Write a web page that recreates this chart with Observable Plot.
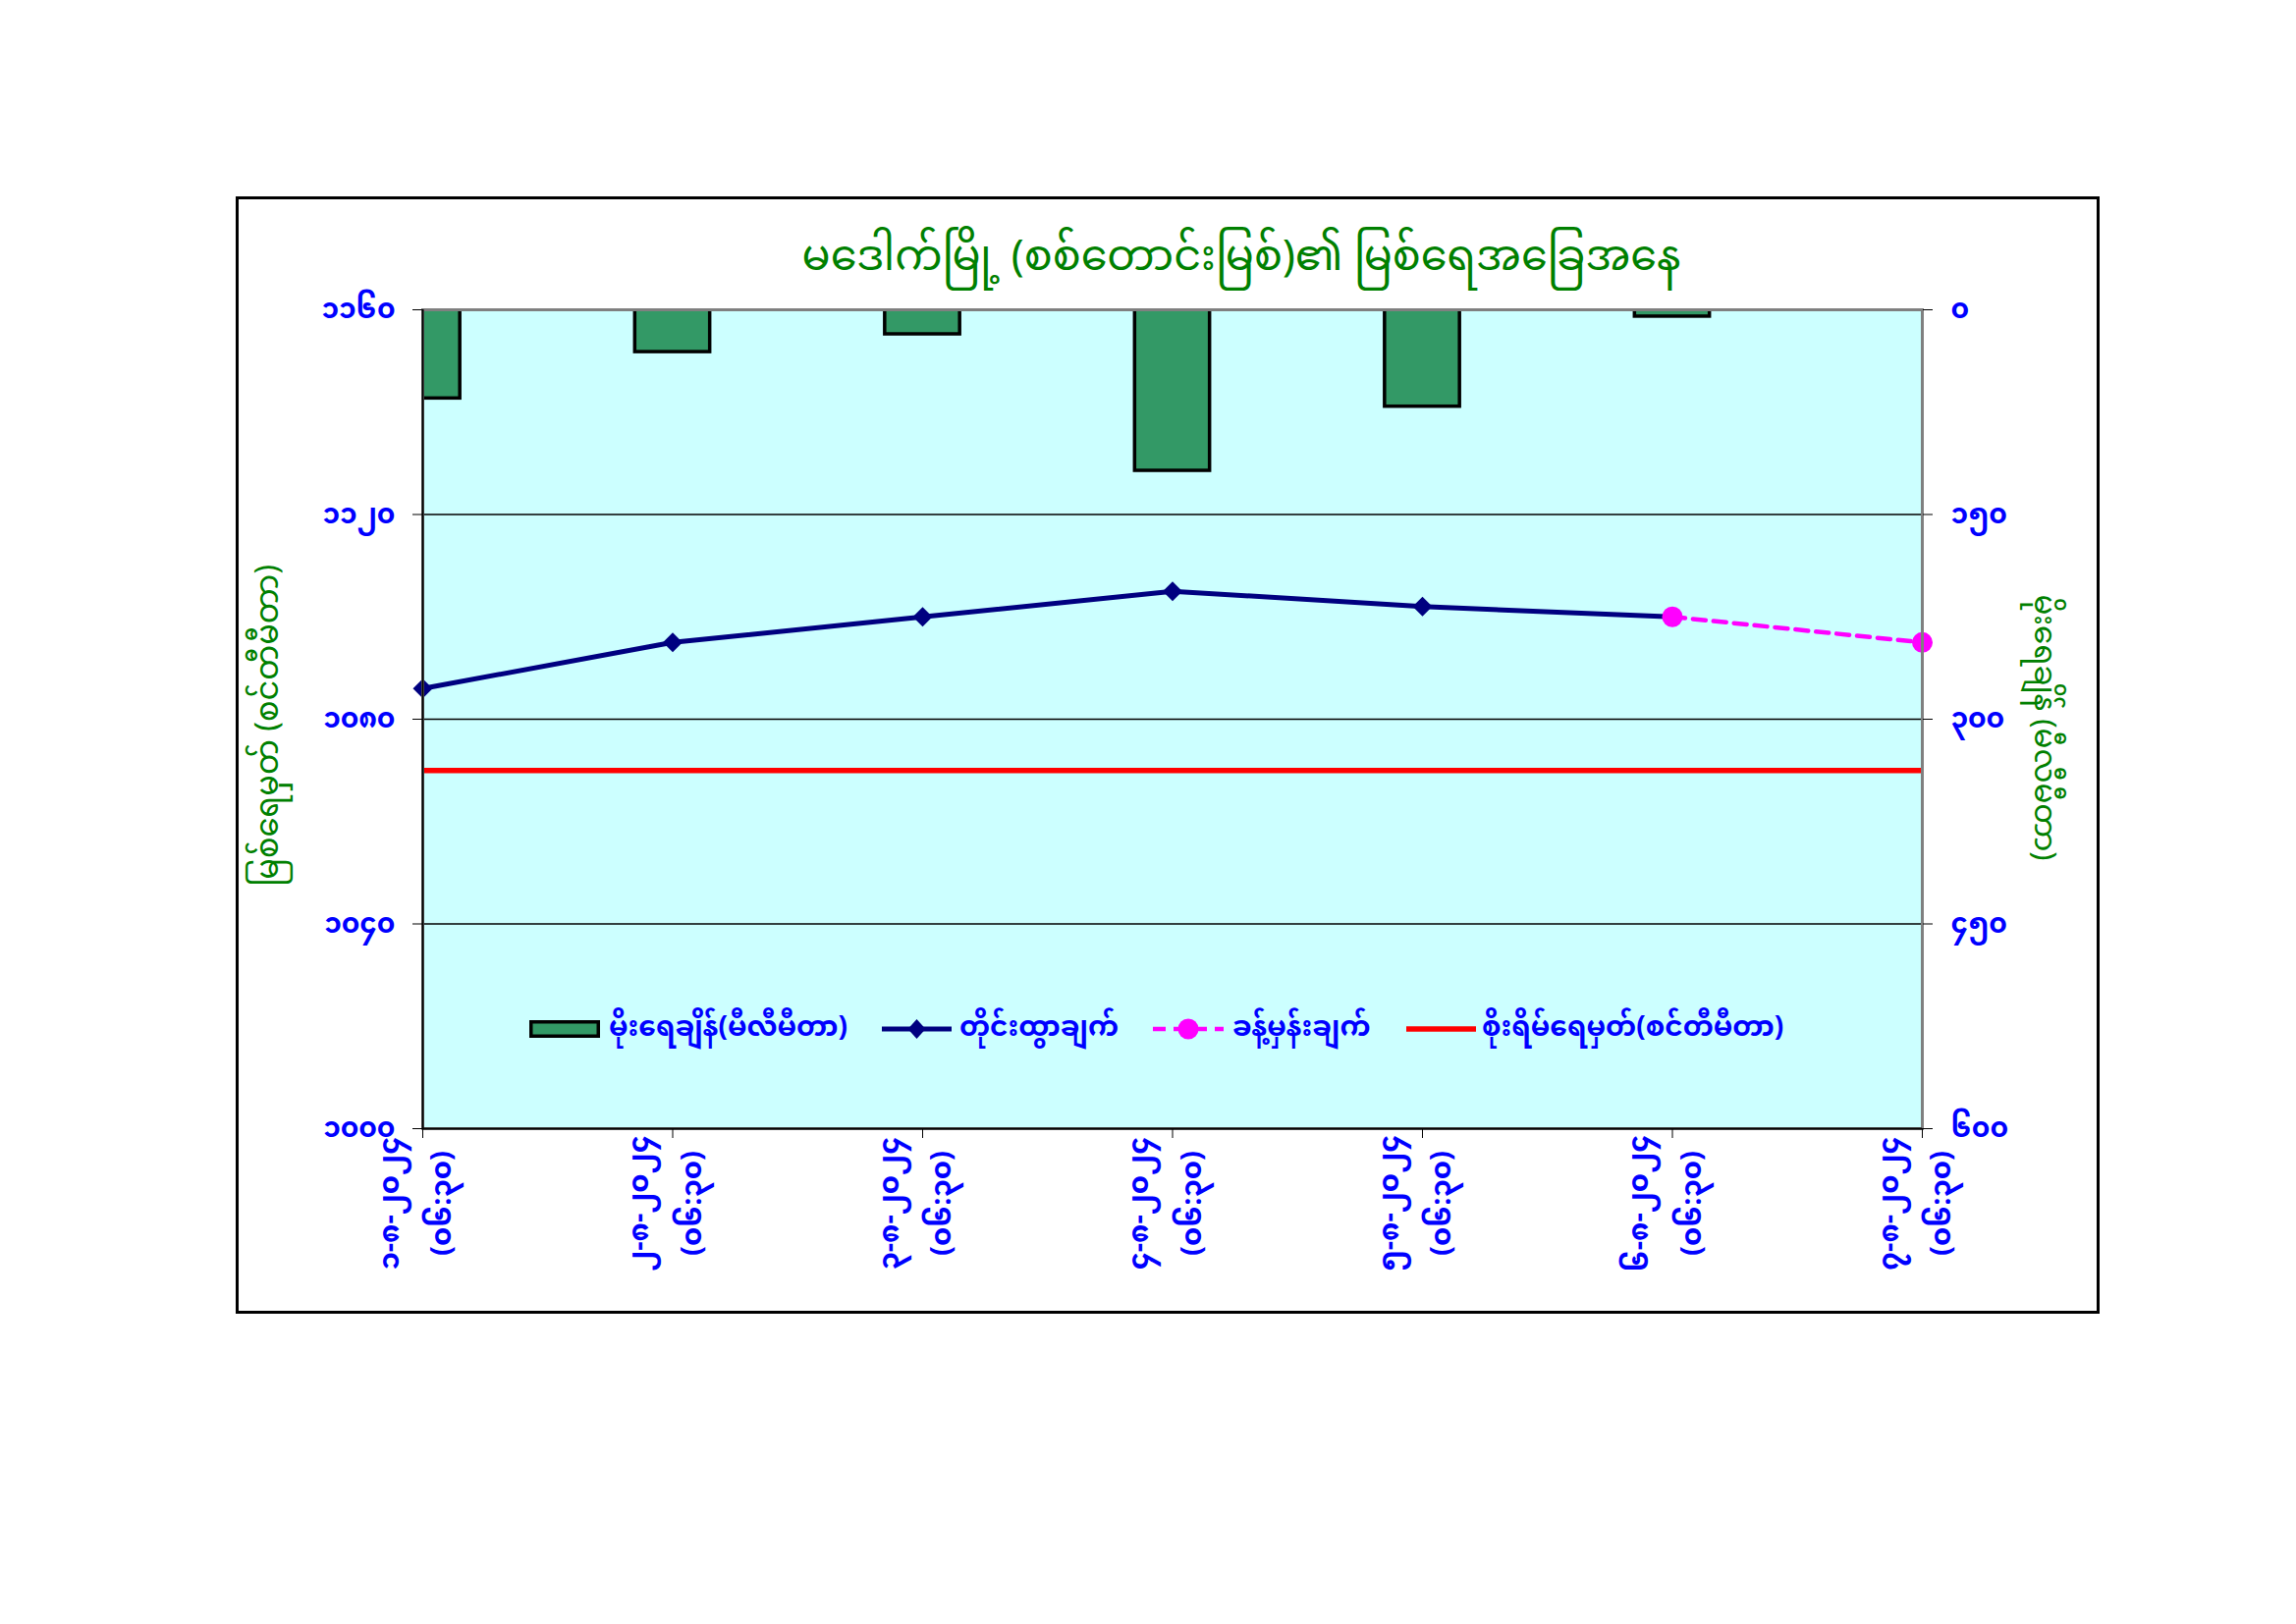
<!DOCTYPE html>
<html>
<head>
<meta charset="utf-8">
<script src="https://cdn.jsdelivr.net/npm/d3@7"></script>
<script src="https://cdn.jsdelivr.net/npm/@observablehq/plot@0.6"></script>
<style>
html,body{margin:0;padding:0;background:#fff;}
#wrap{position:relative;width:2338px;height:1654px;overflow:hidden;
  font-family:"Noto Sans Myanmar","Padauk","Myanmar Text","Noto Sans","DejaVu Sans",sans-serif;}
#chart{position:absolute;left:0;top:0;}
#border{position:absolute;left:240px;top:200px;width:1898px;height:1138px;border:3px solid #000;box-sizing:border-box;}
.ttl{position:absolute;color:#008000;white-space:nowrap;}
#title{left:1264px;top:265px;transform:translate(-50%,-50%);font-size:43px;}
#ylab{left:276px;top:739px;transform:translate(-50%,-50%) rotate(-90deg);font-size:32px;}
#ylab2{left:2079px;top:741px;transform:translate(-50%,-50%) rotate(90deg);font-size:31px;}
.leg{position:absolute;top:1048px;transform:translateY(-50%);color:#0000FF;font-weight:bold;font-size:28px;white-space:nowrap;}
.sw{position:absolute;top:1048px;transform:translateY(-50%);line-height:0;}
</style>
</head>
<body>
<div id="wrap">
  <div id="border"></div>
  <div id="chart"></div>
  <div id="title" class="ttl"></div>
  <div id="ylab" class="ttl"></div>
  <div id="ylab2" class="ttl"></div>
  <div id="legend"></div>
</div>
<script>
// ---- data ----
const titleText = "မဒေါက်မြို့ (စစ်တောင်းမြစ်)၏ မြစ်ရေအခြေအနေ";
const leftTitle = "မြစ်ရေမှတ် (စင်တီမီတာ)";
const rightTitle = "မိုးရေချိန် (မီလီမီတာ)";
const dates = ["၁-၈-၂၀၂၄", "၂-၈-၂၀၂၄", "၃-၈-၂၀၂၄", "၄-၈-၂၀၂၄", "၅-၈-၂၀၂၄", "၆-၈-၂၀၂၄", "၇-၈-၂၀၂၄"];
const obsTime = "(၀၆:၃၀)";
const observedDays = [0, 1, 2, 3, 4, 5];
const waterLevel = [1086, 1095, 1100, 1105, 1102, 1100];      // cm
const forecastDays = [5, 6];
const forecastLevel = [1100, 1095];                            // cm
const rainfall = [65, 31, 18, 118, 71, 5];                     // mm
const dangerLevel = [1070];                                    // cm
const levelTicks = [1000, 1040, 1080, 1120, 1160];
const rainTicks = [0, 150, 300, 450, 600];
const legendLabels = ["မိုးရေချိန်(မီလီမီတာ)", "တိုင်းထွာချက်", "ခန့်မှန်းချက်", "စိုးရိမ်ရေမှတ်(စင်တီမီတာ)"];

// ---- helpers ----
const mmDigits = "၀၁၂၃၄၅၆၇၈၉";
const toMM = v => String(v).replace(/[0-9]/g, c => mmDigits[+c]);
const levelMin = levelTicks[0], levelMax = levelTicks[levelTicks.length - 1];
const rainMax = rainTicks[rainTicks.length - 1];
const rainToY = r => levelMax - r * (levelMax - levelMin) / rainMax;
const yToRain = y => Math.round((levelMax - y) * rainMax / (levelMax - levelMin));

const levelRows = observedDays.map((d, k) => ({i: d, v: waterLevel[k]}));
const forecastRows = forecastDays.map((d, k) => ({i: d, v: forecastLevel[k]}));
const rainRows = rainfall.map((r, k) => ({i: k, rain: r}));
const dayIndex = dates.map((d, k) => k);

const blue = "#0000FF";
const fontFam = "'Noto Sans Myanmar','Padauk','Myanmar Text','Noto Sans','DejaVu Sans',sans-serif";

const chart = Plot.plot({
  width: 2338, height: 1654,
  marginLeft: 430, marginRight: 381, marginTop: 315, marginBottom: 505,
  x: {type: "linear", domain: [0, dates.length - 1]},
  y: {domain: [levelMin, levelMax]},
  style: {background: "transparent", fontFamily: fontFam, overflow: "visible"},
  marks: [
    Plot.frame({fill: "#CCFFFF", stroke: null}),
    Plot.ruleY(levelTicks.slice(1, -1), {stroke: "black", strokeWidth: 1.3}),
    Plot.rect(rainRows, {x1: d => d.i - 0.15, x2: d => d.i + 0.15, y1: levelMax, y2: d => rainToY(d.rain),
      fill: "#339966", stroke: "black", strokeWidth: 3.5, clip: true}),
    Plot.ruleY(dangerLevel, {stroke: "#FF0000", strokeWidth: 5.5}),
    Plot.line(levelRows, {x: "i", y: "v", stroke: "#000080", strokeWidth: 5}),
    Plot.dot(levelRows, {x: "i", y: "v", symbol: "diamond2", r: 9, fill: "#000080", stroke: null}),
    Plot.line(forecastRows, {x: "i", y: "v", stroke: "#FF00FF", strokeWidth: 4.5, strokeDasharray: "13,8"}),
    Plot.dot(forecastRows, {x: "i", y: "v", r: 10.5, fill: "#FF00FF", stroke: null}),
    Plot.frame({stroke: "#808080", strokeWidth: 3}),
    Plot.ruleX([0], {stroke: "black", strokeWidth: 2}),
    Plot.ruleY([levelMin], {stroke: "black", strokeWidth: 2}),
    Plot.axisY({ticks: levelTicks, tickSize: 10, tickPadding: 18, tickFormat: toMM, label: null,
      fontSize: 28, fontWeight: "bold", fill: blue, stroke: "black"}),
    Plot.axisY({anchor: "right", ticks: rainTicks.map(rainToY), tickFormat: y => toMM(yToRain(y)), label: null,
      tickSize: 10, tickPadding: 19, fontSize: 28, fontWeight: "bold", fill: blue, stroke: "black"}),
    Plot.axisX({ticks: dayIndex, tickSize: 10, tickFormat: () => "", label: null, stroke: "black"}),
    Plot.text(dayIndex, {x: d => d, frameAnchor: "bottom", text: d => dates[d] + "\n" + obsTime,
      rotate: -90, textAnchor: "middle", lineAnchor: "middle", lineHeight: 1.85, dy: 76, dx: -15,
      fontSize: 29, fontWeight: "bold", fill: blue})
  ]
});
document.getElementById("chart").appendChild(chart);
document.getElementById("title").textContent = titleText;
document.getElementById("ylab").textContent = leftTitle;
document.getElementById("ylab2").textContent = rightTitle;

// ---- legend ----
const legend = document.getElementById("legend");
const swatches = [
  {x: 539, svg: '<svg width="72" height="18"><rect x="1.75" y="1.75" width="68.5" height="14.5" fill="#339966" stroke="black" stroke-width="3.5"/></svg>'},
  {x: 898, svg: '<svg width="71" height="22"><line x1="0" y1="11" x2="71" y2="11" stroke="#000080" stroke-width="5"/><path d="M35.5 1 L44.5 11 L35.5 21 L26.5 11 Z" fill="#000080"/></svg>'},
  {x: 1174, svg: '<svg width="72" height="22"><line x1="0" y1="11" x2="72" y2="11" stroke="#FF00FF" stroke-width="4.5" stroke-dasharray="13,8"/><circle cx="36" cy="11" r="10.5" fill="#FF00FF"/></svg>'},
  {x: 1432, svg: '<svg width="71" height="10"><line x1="0" y1="5" x2="71" y2="5" stroke="#FF0000" stroke-width="5.5"/></svg>'}
];
const labelX = [620, 977, 1255, 1509];
swatches.forEach((s, k) => {
  const sw = document.createElement("div");
  sw.className = "sw"; sw.style.left = s.x + "px"; sw.innerHTML = s.svg;
  legend.appendChild(sw);
  const lb = document.createElement("div");
  lb.className = "leg"; lb.style.left = labelX[k] + "px"; lb.textContent = legendLabels[k];
  legend.appendChild(lb);
});
</script>
</body>
</html>
